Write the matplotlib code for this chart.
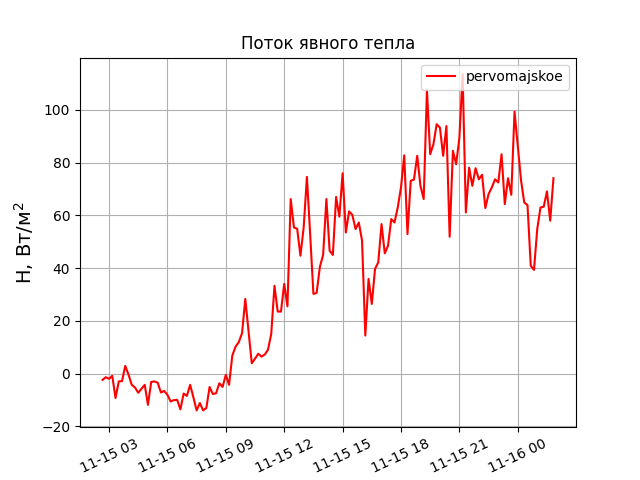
import pandas as pd
import matplotlib
matplotlib.use("Agg")
from matplotlib import pyplot as plt

""" Sensible heat flux, station pervomajskoe, 10-min steps """

start = "2023-11-15 02:40"
station = "pervomajskoe"

# H, W/m^2 every 10 minutes starting 02:40
flux_h = [
    -2.4, -1.4, -2.0, -0.9, -9.3, -3.0, -2.9, 2.9, -0.4, -4.3,
    -5.3, -7.3, -5.8, -4.3, -11.9, -3.2, -3.0, -3.5, -7.2, -6.6,
    -8.1, -10.6, -10.1, -10.0, -13.6, -7.6, -8.5, -4.3, -9.0, -14.0,
    -11.2, -14.0, -13.1, -5.1, -7.8, -7.5, -3.7, -5.1, -0.5, -4.3,
    6.8, 10.2, 11.9,
    15.3, 28.3, 16.3, 3.9, 5.6, 7.5, 6.4, 7.2, 9.0, 15.0,
    33.3, 23.5, 23.5, 34.0, 25.5, 66.2, 55.4, 54.9, 44.7, 55.4,
    74.6, 52.9, 30.2, 30.6, 40.5, 45.0, 66.2, 46.6, 45.0, 67.0,
    59.5, 76.0, 53.5, 61.5, 60.2, 54.8, 57.3, 50.4, 14.4, 35.9,
    26.4, 39.7, 42.2, 56.7, 45.6, 48.5, 58.6, 57.3, 63.0, 70.6,
    82.8, 52.9, 73.1, 73.6, 82.6, 71.2, 66.2, 107.5, 83.2, 87.0,
    94.6, 93.3, 82.6, 93.9, 51.9, 84.5, 79.4, 89.5, 113.5, 61.1,
    78.1, 71.2, 77.9, 73.7, 75.4, 62.8, 68.1, 70.6, 73.7, 72.5,
    83.2, 64.3, 74.1, 67.8, 99.4, 86.4, 73.4, 64.9, 63.9, 40.9,
    39.3, 54.8, 63.0, 63.3, 69.1, 58.0, 74.1,
]

times = pd.date_range(start, periods=len(flux_h), freq="10min")

fig, ax = plt.subplots(figsize=(6.4, 4.8), dpi=100)
ax.plot(times, flux_h, color="red", label=station)
ax.set_title("Поток явного тепла")
ax.set_ylabel("H, Вт/м$^2$", fontsize=14)
ax.grid(True)
ax.legend(loc="upper right")
plt.xticks(rotation=25)

fig.savefig("out.png", dpi=100)
